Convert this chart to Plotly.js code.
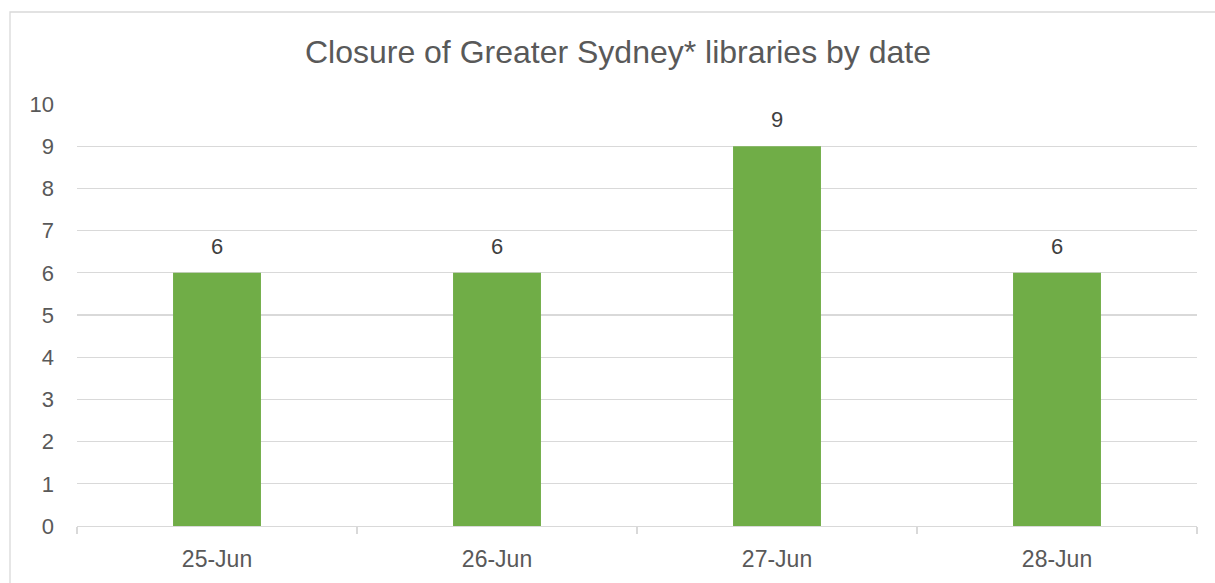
<!DOCTYPE html>
<html>
<head>
<meta charset="utf-8">
<script src="https://cdn.plot.ly/plotly-3.0.1.min.js"></script>
<style>
  html, body { margin: 0; padding: 0; background: #ffffff; }
  #chart { width: 1215px; height: 583px; }
</style>
</head>
<body>
<div id="chart"></div>
<script>
// Library closures per day
const dates = ['25-Jun', '26-Jun', '27-Jun', '28-Jun'];
const closures = [6, 6, 9, 6];
const yTicks = [0, 1, 2, 3, 4, 5, 6, 7, 8, 9, 10];

const textColor = '#595959';
const gridColor = '#d9d9d9';
const fontFamily = 'Liberation Sans, Arial, sans-serif';

const trace = {
  type: 'bar',
  x: dates,
  y: closures,
  marker: { color: '#70ad47' },
  width: 0.314,
  hoverinfo: 'x+y'
};

// value labels sitting above each bar
const valueLabels = dates.map((d, i) => ({
  x: d,
  y: closures[i],
  xref: 'x',
  yref: 'y',
  text: String(closures[i]),
  showarrow: false,
  yanchor: 'bottom',
  yshift: 12,
  font: { family: fontFamily, size: 22, color: '#404040' }
}));

const layout = {
  width: 1215,
  height: 583,
  margin: { l: 77, r: 18, t: 104, b: 57 },
  paper_bgcolor: '#ffffff',
  plot_bgcolor: '#ffffff',
  showlegend: false,
  font: { family: fontFamily, color: textColor },
  title: {
    text: 'Closure of Greater Sydney* libraries by date',
    font: { family: fontFamily, size: 32, color: textColor },
    x: 0.5086,
    xanchor: 'center',
    y: 0.912,
    yanchor: 'middle'
  },
  xaxis: {
    type: 'category',
    showgrid: false,
    showline: true,
    linecolor: gridColor,
    linewidth: 1.3,
    ticks: 'outside',
    tickson: 'boundaries',
    ticklen: 7,
    tickcolor: gridColor,
    tickwidth: 1.3,
    ticklabelstandoff: 12,
    tickfont: { family: fontFamily, size: 23, color: textColor },
    fixedrange: true
  },
  yaxis: {
    range: [0, 10],
    tickvals: yTicks,
    ticktext: yTicks.map(String),
    showgrid: true,
    gridcolor: gridColor,
    gridwidth: 1.3,
    zeroline: false,
    showline: false,
    ticks: '',
    ticklabelstandoff: 22,
    tickfont: { family: fontFamily, size: 22, color: textColor },
    fixedrange: true
  },
  annotations: valueLabels,
  shapes: [{
    type: 'rect',
    xref: 'paper',
    yref: 'paper',
    x0: (10 - 77) / 1120,
    x1: 1.05,
    y0: -0.2,
    y1: (526 - 12) / 422,
    line: { color: gridColor, width: 1.3 },
    fillcolor: 'rgba(0,0,0,0)',
    layer: 'below'
  }]
};

Plotly.newPlot('chart', [trace], layout, { displayModeBar: false, staticPlot: true });
</script>
</body>
</html>
